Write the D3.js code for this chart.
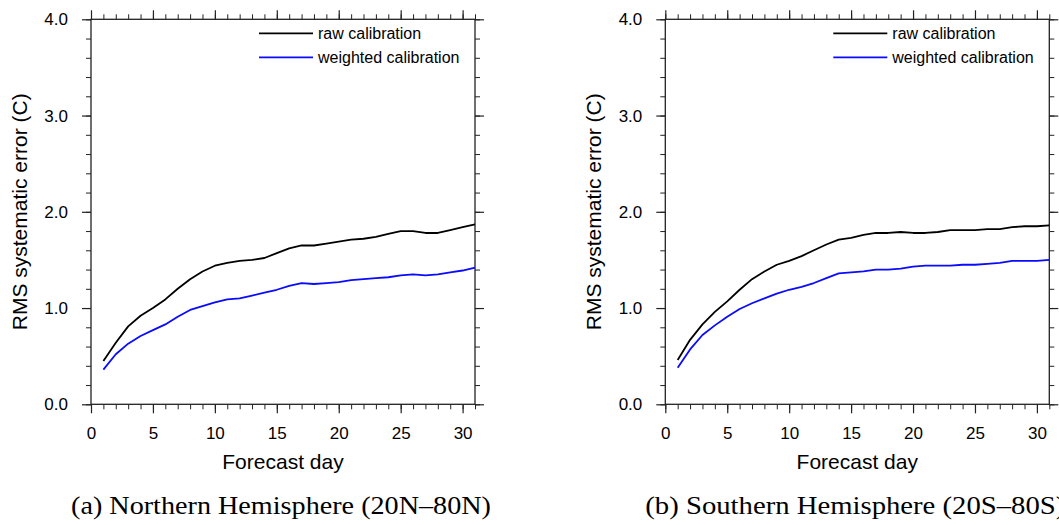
<!DOCTYPE html>
<html>
<head>
<meta charset="utf-8">
<script src="https://cdn.jsdelivr.net/npm/d3@7"></script>
<style>
  body { margin: 0; background: #fff; }
  svg { display: block; }
</style>
</head>
<body>
<div id="chart"></div>
<script>
// forecast days 1..31
const days = d3.range(1, 32);

// Northern Hemisphere (20N-80N)
const nhRaw = [0.45, 0.64, 0.81, 0.92, 1.00, 1.09, 1.20, 1.30, 1.38, 1.44,
  1.47, 1.49, 1.50, 1.52, 1.57, 1.62, 1.65, 1.65, 1.67, 1.69,
  1.71, 1.72, 1.74, 1.77, 1.80, 1.80, 1.78, 1.78, 1.81, 1.84, 1.87];
const nhWeighted = [0.36, 0.52, 0.63, 0.71, 0.77, 0.83, 0.91, 0.98, 1.02, 1.06,
  1.09, 1.10, 1.13, 1.16, 1.19, 1.23, 1.26, 1.25, 1.26, 1.27,
  1.29, 1.30, 1.31, 1.32, 1.34, 1.35, 1.34, 1.35, 1.37, 1.39, 1.42];

// Southern Hemisphere (20S-80S)
const shRaw = [0.46, 0.67, 0.83, 0.96, 1.07, 1.19, 1.30, 1.38, 1.45, 1.49,
  1.54, 1.60, 1.66, 1.71, 1.73, 1.76, 1.78, 1.78, 1.79, 1.78,
  1.78, 1.79, 1.81, 1.81, 1.81, 1.82, 1.82, 1.84, 1.85, 1.85, 1.86];
const shWeighted = [0.38, 0.57, 0.72, 0.82, 0.91, 0.99, 1.05, 1.10, 1.15, 1.19,
  1.22, 1.26, 1.31, 1.36, 1.37, 1.38, 1.40, 1.40, 1.41, 1.43,
  1.44, 1.44, 1.44, 1.45, 1.45, 1.46, 1.47, 1.49, 1.49, 1.49, 1.50];

const xMajor = [0, 5, 10, 15, 20, 25, 30];
const yMajor = [0, 1, 2, 3, 4];
const seriesNames = ["raw calibration", "weighted calibration"];
const seriesColors = ["#000000", "#0a0aff"];
const captions = ["(a) Northern Hemisphere (20N\u201380N)", "(b) Southern Hemisphere (20S\u201380S)"];

const width = 1059, height = 525;
const plotW = 384, plotH = 385;
const sans = "'Liberation Sans', Arial, Helvetica, sans-serif";

const svg = d3.select("#chart").append("svg")
  .attr("width", width)
  .attr("height", height);

const x = d3.scaleLinear().domain([0, 31]).range([0, plotW]);
const y = d3.scaleLinear().domain([0, 4]).range([plotH, 0]);

function drawPanel(left, top, raw, weighted, caption) {
  const g = svg.append("g").attr("transform", `translate(${left},${top})`);

  const xMinor = d3.range(0, 32);
  const yMinor = d3.range(0, 4.01, 0.2);

  // minor ticks, all four sides (outward)
  const minor = [
    [d3.axisBottom(x).tickValues(xMinor), `translate(0,${plotH})`],
    [d3.axisTop(x).tickValues(xMinor), null],
    [d3.axisLeft(y).tickValues(yMinor), null],
    [d3.axisRight(y).tickValues(yMinor), `translate(${plotW},0)`]
  ];
  minor.forEach(([ax, tr]) => {
    const a = g.append("g").call(ax.tickSize(5).tickFormat(""));
    if (tr) a.attr("transform", tr);
    a.select(".domain").remove();
    a.selectAll("line").attr("stroke", "#222").attr("stroke-width", 1);
  });

  // major ticks
  const xb = g.append("g")
    .attr("transform", `translate(0,${plotH})`)
    .call(d3.axisBottom(x).tickValues(xMajor).tickSize(9).tickPadding(14).tickFormat(d3.format("d")));
  const xt = g.append("g")
    .call(d3.axisTop(x).tickValues(xMajor).tickSize(9).tickFormat(""));
  const yl = g.append("g")
    .call(d3.axisLeft(y).tickValues(yMajor).tickSize(9).tickPadding(14).tickFormat(d3.format(".1f")));
  const yr = g.append("g")
    .attr("transform", `translate(${plotW},0)`)
    .call(d3.axisRight(y).tickValues(yMajor).tickSize(9).tickFormat(""));
  [xb, xt, yl, yr].forEach(a => {
    a.select(".domain").remove();
    a.selectAll("line").attr("stroke", "#222").attr("stroke-width", 1.2);
    a.selectAll("text")
      .attr("fill", "#000")
      .style("font-family", sans)
      .style("font-size", "17px");
  });

  // frame
  g.append("rect")
    .attr("x", 0).attr("y", 0)
    .attr("width", plotW).attr("height", plotH)
    .attr("fill", "none")
    .attr("stroke", "#222")
    .attr("stroke-width", 1.3);

  // lines
  const line = d3.line()
    .x((d, i) => x(days[i]))
    .y(d => y(d));

  [raw, weighted].forEach((s, k) => {
    g.append("path")
      .datum(s)
      .attr("fill", "none")
      .attr("stroke", seriesColors[k])
      .attr("stroke-width", 1.8)
      .attr("stroke-linejoin", "round")
      .attr("d", line);
  });

  // legend
  seriesNames.forEach((name, k) => {
    const ly = 14 + k * 24;
    g.append("line")
      .attr("x1", 168).attr("x2", 222)
      .attr("y1", ly).attr("y2", ly)
      .attr("stroke", seriesColors[k])
      .attr("stroke-width", 1.8);
    g.append("text")
      .attr("x", 227)
      .attr("y", ly + 6)
      .style("font-family", sans)
      .style("font-size", "16px")
      .attr("fill", "#000")
      .text(name);
  });

  // axis titles
  g.append("text")
    .attr("x", plotW / 2)
    .attr("y", plotH + 65)
    .attr("text-anchor", "middle")
    .style("font-family", sans)
    .style("font-size", "21px")
    .text("Forecast day");

  g.append("text")
    .attr("transform", `translate(-64,${plotH / 2}) rotate(-90)`)
    .attr("text-anchor", "middle")
    .style("font-family", sans)
    .style("font-size", "21px")
    .text("RMS systematic error (C)");

  // caption
  g.append("text")
    .attr("x", -20)
    .attr("y", plotH + 110)
    .attr("textLength", 420)
    .attr("lengthAdjust", "spacingAndGlyphs")
    .style("font-family", "'Liberation Serif', 'DejaVu Serif', serif")
    .style("font-size", "26px")
    .text(caption);
}

drawPanel(91, 19.3, nhRaw, nhWeighted, captions[0]);
drawPanel(665.3, 19.3, shRaw, shWeighted, captions[1]);
</script>
</body>
</html>
